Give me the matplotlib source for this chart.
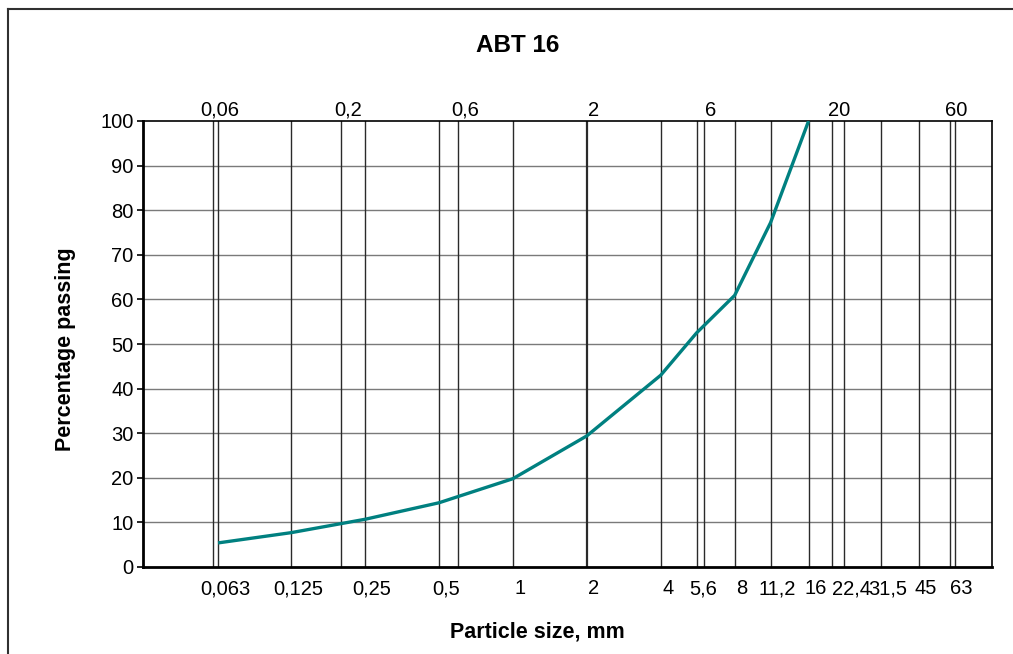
import matplotlib
matplotlib.use("Agg")
import matplotlib.pyplot as plt
from matplotlib.lines import Line2D
import matplotlib.transforms as mtransforms

plt.rcParams['font.family'] = ['Liberation Sans', 'DejaVu Sans']

# Data
sizes = [0.063, 0.125, 0.25, 0.5, 1, 2, 4, 5.6, 8, 11.2, 16]
passing = [5.4, 7.7, 10.7, 14.4, 19.8, 29.4, 43.0, 52.5, 60.9, 77.2, 100]

bottom_ticks = [0.063, 0.125, 0.25, 0.5, 1, 2, 4, 5.6, 8, 11.2, 16, 22.4, 31.5, 45, 63]
bottom_labels = ["0,063", "0,125", "0,25", "0,5", "1", "2", "4", "5,6", "8",
                 "11,2", "16", "22,4", "31,5", "45", "63"]
top_ticks = [0.06, 0.2, 0.6, 2, 6, 20, 60]
top_labels = ["0,06", "0,2", "0,6", "2", "6", "20", "60"]
y_ticks = list(range(0, 101, 10))

W, H = 1013, 654
fig = plt.figure(figsize=(W / 100, H / 100), dpi=100)
ax = fig.add_axes([143.3 / W, 1 - 567 / H, (992.3 - 143.3) / W, (567 - 121) / H])

ax.set_xscale('log')
ax.set_xlim(1 / 32, 89.6)
ax.set_ylim(0, 100)

# horizontal grid
for v in y_ticks[1:-1]:
    ax.axhline(v, color='#7a7a7a', lw=1.0, zorder=1)
# vertical grid
for v in sorted(set(bottom_ticks) | set(top_ticks)):
    ax.axvline(v, color='#2a2a2a', lw=1.0 if v != 2 else 1.6, zorder=1)

ax.plot(sizes, passing, color='#008080', lw=2.4, zorder=3, solid_capstyle='butt')

FS = 14.5
ax.set_xticks(bottom_ticks)
ax.set_xticklabels(bottom_labels, fontsize=FS)
ax.xaxis.set_minor_locator(matplotlib.ticker.NullLocator())
ax.set_yticks(y_ticks)
ax.set_yticklabels([str(v) for v in y_ticks], fontsize=FS)
ax.tick_params(axis='x', direction='out', length=0, pad=9)
ax.tick_params(axis='y', direction='out', length=4, width=1.2, pad=3)

for sp in ['left', 'bottom']:
    ax.spines[sp].set_linewidth(2.0)
for sp in ['top', 'right']:
    ax.spines[sp].set_linewidth(1.2)

off = mtransforms.ScaledTranslation(7 / 100, 0, fig.dpi_scale_trans)
for lab in ax.get_xticklabels():
    lab.set_transform(lab.get_transform() + off)

ax2 = ax.twiny()
ax2.set_xscale('log')
ax2.set_xlim(ax.get_xlim())
ax2.set_xticks(top_ticks)
ax2.set_xticklabels(top_labels, fontsize=FS)
ax2.xaxis.set_minor_locator(matplotlib.ticker.NullLocator())
ax2.tick_params(axis='x', direction='out', length=0, pad=1)
for lab in ax2.get_xticklabels():
    lab.set_transform(lab.get_transform() + off)
for sp in ax2.spines.values():
    sp.set_visible(False)

fig.text(518 / W, 1 - 46 / H, "ABT 16", ha='center', va='center',
         fontsize=17.5, fontweight='bold')
fig.text(66 / W, 1 - 349 / H, "Percentage passing", ha='center', va='center',
         rotation=90, fontsize=15.5, fontweight='bold')
fig.text(537 / W, 1 - 632 / H, "Particle size, mm", ha='center', va='center',
         fontsize=15.5, fontweight='bold')

# outer border
fig.add_artist(Line2D([8 / W, 1.0], [1 - 9 / H, 1 - 9 / H], color='#303030', lw=1.5,
                      transform=fig.transFigure))
fig.add_artist(Line2D([8 / W, 8 / W], [1 - 9 / H, 0.0], color='#303030', lw=1.5,
                      transform=fig.transFigure))

fig.savefig("out.png", dpi=100)
